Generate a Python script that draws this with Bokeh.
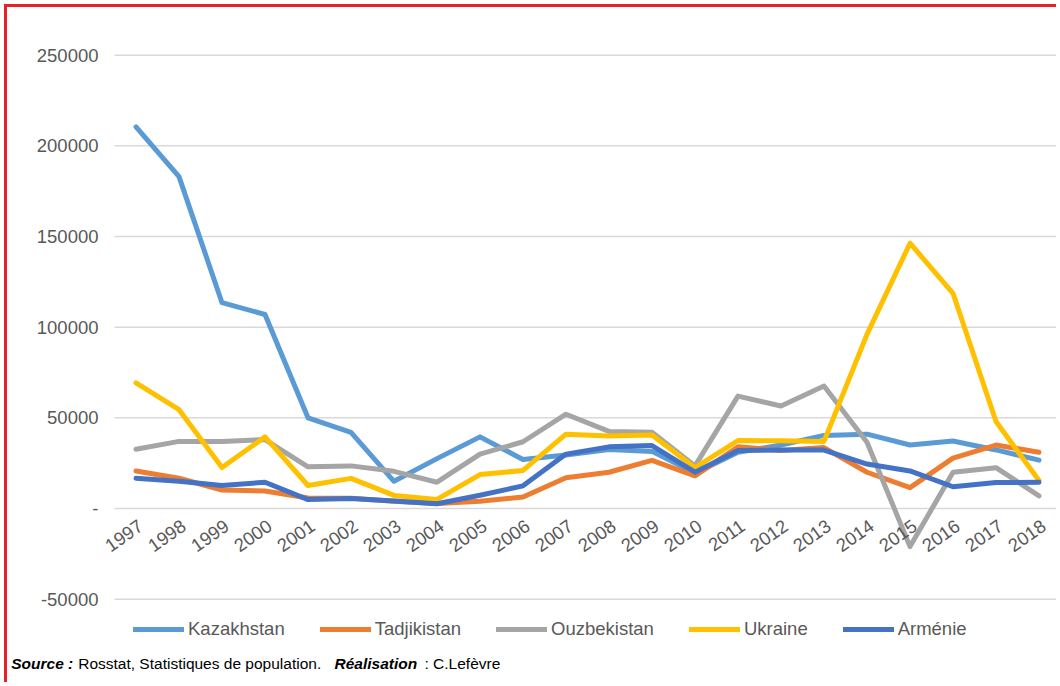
import math
from bokeh.plotting import figure
from bokeh.models import Range1d, Legend, LegendItem, Label, ColumnDataSource
from bokeh.embed import file_html
from bokeh.resources import INLINE
from bokeh.core.properties import value

years = list(range(1997, 2019))
year_labels = [str(y) for y in years]

kazakhstan = [210500, 183000, 113500, 107000, 50000, 42000, 15000, 27500, 39500, 27000,
              29500, 32500, 31500, 19500, 31000, 35000, 40300, 41000, 35000, 37200, 32300, 26700]
tadjikistan = [20700, 16700, 10200, 9600, 5800, 5700, 4000, 2700, 4000, 6300,
               17000, 20000, 26500, 18000, 34000, 32000, 33600, 20000, 11500, 27800, 35000, 31000]
ouzbekistan = [32700, 37000, 37000, 38000, 23000, 23500, 20500, 14500, 30000, 36800,
               52000, 42500, 42000, 23500, 62000, 56500, 67500, 36500, -21000, 20000, 22500, 7000]
ukraine = [69300, 54500, 22600, 39500, 12700, 16600, 7200, 5000, 18700, 21000,
           41000, 40000, 40500, 22500, 37500, 37300, 37000, 96000, 146300, 118700, 48000, 15400]
armenie = [16700, 15000, 12700, 14500, 4900, 5500, 4200, 2600, 7300, 12500,
           30000, 34000, 34700, 20000, 32000, 32200, 32200, 24500, 20700, 12000, 14300, 14500]

series_names = ["Kazakhstan", "Tadjikistan", "Ouzbekistan", "Ukraine", "Arménie"]
series_values = [kazakhstan, tadjikistan, ouzbekistan, ukraine, armenie]
series_colors = ["#5B9BD5", "#ED7D31", "#A5A5A5", "#FFC000", "#4472C4"]

y_ticks = [-50000, 0, 50000, 100000, 150000, 200000, 250000]
y_tick_labels = ["-50000", "-", "50000", "100000", "150000", "200000", "250000"]

FONT = "Liberation Sans"
GREY_TXT = "#595959"

X0, X1 = 1994.0116, 2018.4767      # plot range (frame = whole figure)
Y0, Y1 = -97610, 276287
AX_LEFT = 1996.5                    # left end of the value gridlines

p = figure(width=1052, height=678, output_backend="svg", toolbar_location=None,
           x_axis_location=None, y_axis_location=None,
           x_range=Range1d(X0, X1), y_range=Range1d(Y0, Y1),
           min_border_left=0, min_border_right=0, min_border_top=0, min_border_bottom=0)
p.outline_line_color = None
p.grid.visible = False
p.background_fill_color = "white"
p.border_fill_color = "white"
p.styles = {"margin-left": "4px", "margin-top": "4px",
            "border-left": "3px solid #e8202a", "border-top": "3px solid #e8202a"}

# value gridlines and tick labels
p.segment(x0=[AX_LEFT] * len(y_ticks), y0=y_ticks, x1=[X1] * len(y_ticks), y1=y_ticks,
          line_color="#D9D9D9", line_width=1.5)
p.text(x=[AX_LEFT] * len(y_ticks), y=y_ticks, text=y_tick_labels, x_offset=-16,
       text_align="right", text_baseline="middle",
       text_font=value(FONT), text_font_size="18.5px", text_color=GREY_TXT)

renderers = []
for name, vals, col in zip(series_names, series_values, series_colors):
    r = p.line(years, vals, line_color=col, line_width=5, line_join="round", line_cap="round")
    renderers.append(r)

# category labels under the zero line
lab_src = ColumnDataSource(dict(x=years, y=[0] * len(years), t=year_labels))
p.text(x="x", y="y", text="t", source=lab_src, angle=math.radians(35),
       text_align="right", text_baseline="top", x_offset=1, y_offset=10,
       text_font=value(FONT), text_font_size="18.5px", text_color=GREY_TXT)

legend = Legend(items=[LegendItem(label=n, renderers=[r]) for n, r in zip(series_names, renderers)],
                orientation="horizontal", location=(126, 45),
                glyph_width=51, glyph_height=20, label_standoff=4, spacing=35,
                padding=0, margin=0, border_line_alpha=0, background_fill_alpha=0,
                label_text_font=FONT, label_text_font_size="18.5px",
                label_text_color=GREY_TXT, label_height=20)
p.add_layout(legend)

src_parts = [("Source :", "bold italic", 10.7),
             ("Rosstat, Statistiques de population.", "normal", 77.7),
             ("Réalisation", "bold italic", 334.0),
             (": C.Lefèvre", "normal", 424.0)]
for txt, style, px in src_parts:
    p.add_layout(Label(x=px - 7, y=678 - (663 - 7), x_units="screen", y_units="screen", text=txt,
                       text_font=FONT, text_font_style=style, text_font_size="15.5px",
                       text_color="black", text_baseline="middle", text_align="left"))

open("out.html", "w").write(file_html(p, INLINE))
